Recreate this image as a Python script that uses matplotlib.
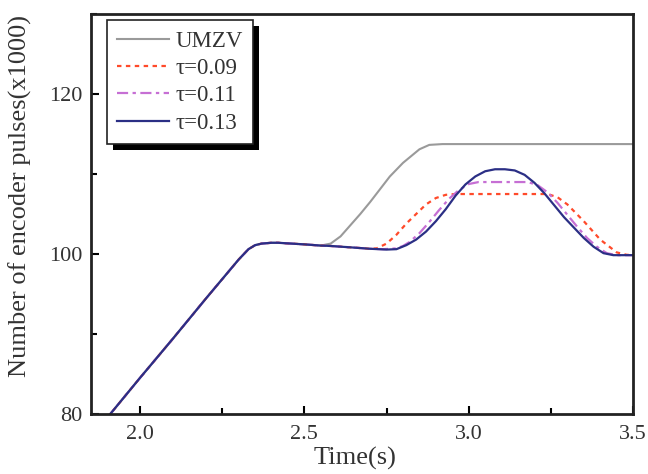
import numpy as np
import matplotlib
matplotlib.use("Agg")
import matplotlib.pyplot as plt
from matplotlib.patches import Rectangle
from matplotlib.ticker import MultipleLocator

# common ramp + dwell shared by all curves
t_common = [1.90, 2.00, 2.10, 2.20, 2.30, 2.33, 2.35, 2.37, 2.40, 2.42, 2.50, 2.55]
y_common = [79.5, 84.5, 89.4, 94.4, 99.3, 100.6, 101.1, 101.3, 101.4, 101.4, 101.2, 101.05]

# UMZV after dwell
t_umzv = [2.58, 2.61, 2.64, 2.67, 2.70, 2.73, 2.76, 2.80, 2.85, 2.88, 2.92, 3.50]
y_umzv = [101.3, 102.2, 103.6, 105.0, 106.5, 108.1, 109.7, 111.4, 113.1, 113.65, 113.75, 113.75]

# shared slow drift before the tau curves separate
t_drift = [2.58, 2.65, 2.70]
y_drift = [101.0, 100.8, 100.65]

t_09 = [2.72, 2.75, 2.78, 2.81, 2.84, 2.87, 2.90, 2.93, 2.96, 3.24, 3.27, 3.30, 3.35, 3.40, 3.45, 3.48, 3.50]
y_09 = [100.7, 101.3, 102.4, 103.8, 105.0, 106.2, 107.0, 107.4, 107.5, 107.5, 107.1, 106.2, 104.1, 101.8, 100.2, 99.9, 99.85]

t_11 = [2.74, 2.78, 2.80, 2.82, 2.85, 2.88, 2.91, 2.94, 2.97, 3.00, 3.03, 3.18, 3.21, 3.24, 3.27, 3.30, 3.33, 3.36, 3.39, 3.42, 3.45, 3.50]
y_11 = [100.6, 100.7, 101.0, 101.5, 102.6, 104.0, 105.5, 106.9, 108.0, 108.75, 109.0, 109.0, 108.6, 107.7, 106.4, 104.9, 103.4, 102.0, 100.9, 100.1, 99.85, 99.85]

t_13 = [2.75, 2.78, 2.81, 2.84, 2.87, 2.90, 2.93, 2.96, 2.99, 3.02, 3.05, 3.08, 3.11, 3.14, 3.17, 3.20, 3.23, 3.26, 3.29, 3.32, 3.35, 3.38, 3.41, 3.44, 3.50]
y_13 = [100.55, 100.6, 101.1, 101.8, 102.8, 104.1, 105.6, 107.3, 108.7, 109.7, 110.35, 110.6, 110.6, 110.45, 109.9, 108.9, 107.6, 106.1, 104.6, 103.3, 102.0, 100.9, 100.1, 99.85, 99.85]

plt.rcParams['font.family'] = ['Liberation Serif', 'DejaVu Serif']

fig = plt.figure(figsize=(6.48, 4.74), dpi=100)
ax = fig.add_axes([0.14, 0.127, 0.837, 0.843])

ax.plot(t_common + t_umzv, y_common + y_umzv, color='#9a9a9a', lw=1.5, label='UMZV')
ax.plot(t_common + t_drift + t_09, y_common + y_drift + y_09, color='#ff4a2a', lw=1.6,
        ls=(0, (2, 2)), label='τ=0.09')
ax.plot(t_common + t_drift + t_11, y_common + y_drift + y_11, color='#c66fd4', lw=1.6,
        ls=(0, (5, 2, 1.5, 2)), label='τ=0.11')
ax.plot(t_common + t_drift + t_13, y_common + y_drift + y_13, color='#2b2f85', lw=1.6,
        label='τ=0.13')

ax.set_xlim(1.85, 3.5)
ax.set_ylim(80, 130)
ax.xaxis.set_major_locator(MultipleLocator(0.5))
ax.xaxis.set_minor_locator(MultipleLocator(0.25))
ax.yaxis.set_major_locator(MultipleLocator(20))
ax.yaxis.set_minor_locator(MultipleLocator(10))
ax.tick_params(which='both', direction='in', top=False, right=False, width=1.5,
               labelsize=16, labelcolor='#333333')
ax.tick_params(axis='x', pad=8)
ax.tick_params(axis='y', pad=6)
ax.tick_params(which='major', length=6)
ax.tick_params(which='minor', length=4)
for s in ax.spines.values():
    s.set_linewidth(2)
    s.set_color('#222222')

ax.set_xlabel('Time(s)', fontsize=19, color='#333333')
ax.set_ylabel('Number of encoder pulses(x1000)', fontsize=19, color='#333333')
ax.xaxis.set_label_coords(0.487, -0.082)
ax.yaxis.set_label_coords(-0.108, 0.545)

leg = ax.legend(loc='upper left', bbox_to_anchor=(0.0295, 0.985), borderaxespad=0,
                fontsize=16.5, handlelength=2.25, frameon=True, fancybox=False,
                borderpad=0.45, labelspacing=0.28, handletextpad=0.3, framealpha=1)
leg.get_frame().set_edgecolor('#222222')
leg.get_frame().set_linewidth(1.2)
for txt in leg.get_texts():
    txt.set_color('#333333')

# solid black drop shadow behind the legend box
fig.canvas.draw()
bb = leg.get_frame().get_window_extent()
inv = ax.transAxes.inverted()
(x0, y0), (x1, y1) = inv.transform([[bb.x0 + 6, bb.y0 - 6], [bb.x1 + 6, bb.y1 - 6]])
ax.add_patch(Rectangle((x0, y0), x1 - x0, y1 - y0, transform=ax.transAxes,
                       facecolor='black', edgecolor='none', clip_on=False, zorder=4.9))

fig.savefig('out.png', dpi=100)
